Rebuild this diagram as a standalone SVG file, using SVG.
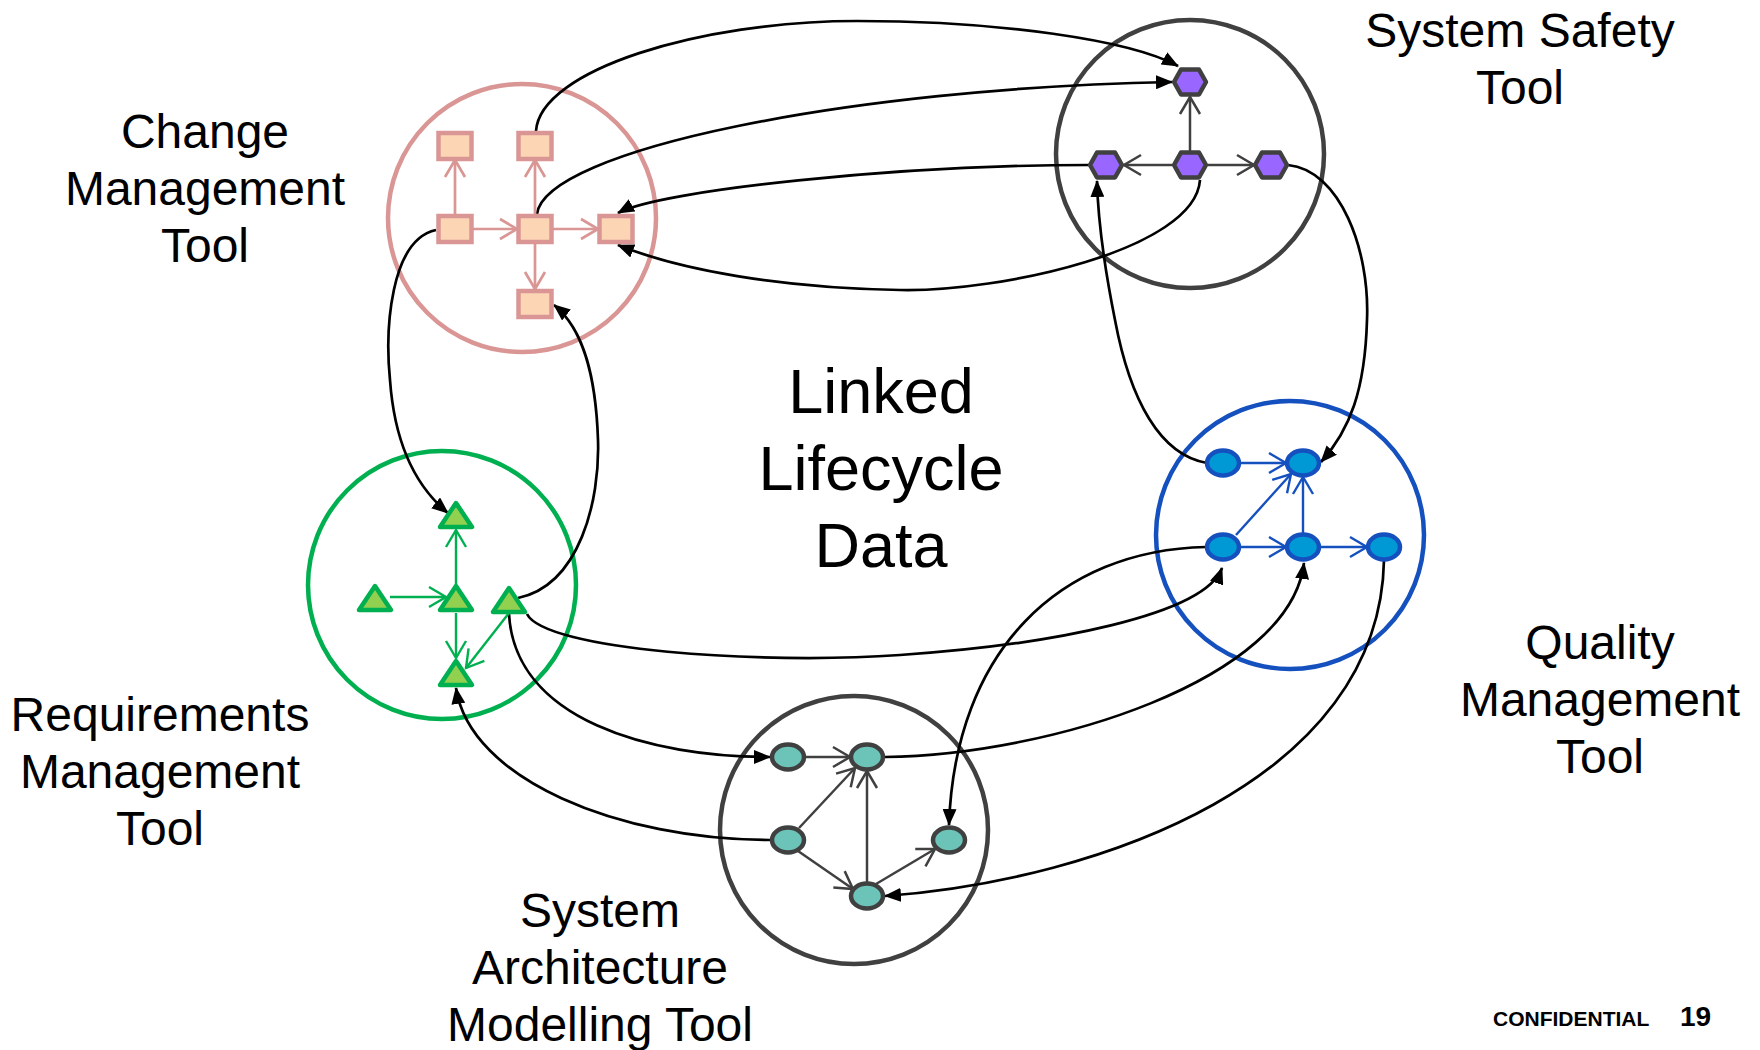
<svg xmlns="http://www.w3.org/2000/svg" width="1760" height="1050" viewBox="0 0 1760 1050">
<style>
.lbl{font-family:"Liberation Sans",Arial,sans-serif;font-size:48px;fill:#000;text-anchor:middle}
.big{font-family:"Liberation Sans",Arial,sans-serif;font-size:63px;fill:#000;text-anchor:middle}
.tool{fill:none;stroke-width:4.5}
.conn{fill:none;stroke:#000;stroke-width:2.7;marker-end:url(#ah)}
.sq{fill:#fcd5b4;stroke:#d99694;stroke-width:4.5}
.hx{fill:#9966ff;stroke:#404040;stroke-width:4.5;stroke-linejoin:round}
.tr{fill:#92d050;stroke:#00b050;stroke-width:4.5;stroke-linejoin:round}
.qe{fill:#0099d6;stroke:#1550bf;stroke-width:4.5}
.se{fill:#6cc4b8;stroke:#404040;stroke-width:4.5}
.ip{stroke:#d99694;stroke-width:2.7;fill:none;marker-end:url(#op)}
.ig{stroke:#404040;stroke-width:2.5;fill:none;marker-end:url(#og)}
.iv{stroke:#00b050;stroke-width:2.4;fill:none;marker-end:url(#ov)}
.ib{stroke:#1550bf;stroke-width:2.4;fill:none;marker-end:url(#ob)}
</style>
<defs>
<marker id="ah" viewBox="0 0 17 14" refX="16" refY="7" markerWidth="17" markerHeight="14" markerUnits="userSpaceOnUse" orient="auto"><path d="M0,0 L17,7 L0,14 z" fill="#000"/></marker>
<marker id="op" viewBox="-2 -2 22 24" refX="17" refY="10" markerWidth="22" markerHeight="24" markerUnits="userSpaceOnUse" orient="auto"><path d="M0,0 L17,10 L0,20" fill="none" stroke="#d99694" stroke-width="2.7"/></marker>
<marker id="og" viewBox="-2 -2 22 24" refX="17" refY="10" markerWidth="22" markerHeight="24" markerUnits="userSpaceOnUse" orient="auto"><path d="M0,0 L17,10 L0,20" fill="none" stroke="#404040" stroke-width="2.5"/></marker>
<marker id="ov" viewBox="-2 -2 22 24" refX="17" refY="10" markerWidth="22" markerHeight="24" markerUnits="userSpaceOnUse" orient="auto"><path d="M0,0 L17,10 L0,20" fill="none" stroke="#00b050" stroke-width="2.4"/></marker>
<marker id="ob" viewBox="-2 -2 22 24" refX="17" refY="10" markerWidth="22" markerHeight="24" markerUnits="userSpaceOnUse" orient="auto"><path d="M0,0 L17,10 L0,20" fill="none" stroke="#1550bf" stroke-width="2.4"/></marker>
</defs>
<rect width="1760" height="1050" fill="#fff"/>

<g id="change-management-tool">
<circle class="tool" cx="522" cy="218" r="134" stroke="#d99694"/>
<text class="lbl" x="205" y="148">Change</text>
<text class="lbl" x="205" y="205">Management</text>
<text class="lbl" x="205" y="262">Tool</text>
</g>
<g id="system-safety-tool">
<circle class="tool" cx="1190" cy="154" r="134" stroke="#404040"/>
<text class="lbl" x="1520" y="47">System Safety</text>
<text class="lbl" x="1520" y="104">Tool</text>
</g>
<g id="requirements-management-tool">
<circle class="tool" cx="442" cy="585" r="134" stroke="#00b050"/>
<text class="lbl" x="160" y="731">Requirements</text>
<text class="lbl" x="160" y="788">Management</text>
<text class="lbl" x="160" y="845">Tool</text>
</g>
<g id="quality-management-tool">
<circle class="tool" cx="1290" cy="535" r="134" stroke="#1550bf"/>
<text class="lbl" x="1600" y="659">Quality</text>
<text class="lbl" x="1600" y="716">Management</text>
<text class="lbl" x="1600" y="773">Tool</text>
</g>
<g id="system-architecture-modelling-tool">
<circle class="tool" cx="854" cy="830" r="134" stroke="#404040"/>
<text class="lbl" x="600" y="927">System</text>
<text class="lbl" x="600" y="984">Architecture</text>
<text class="lbl" x="600" y="1041">Modelling Tool</text>
</g>
<g id="linked-lifecycle-data">
<text class="big" x="881" y="413">Linked</text>
<text class="big" x="881" y="490">Lifecycle</text>
<text class="big" x="881" y="567">Data</text>
</g>

<g id="connectors">
<path class="conn" d="M536 131 C540 70 700 21 857 21 C1000 21 1130 40 1178 66"/>
<path class="conn" d="M537 214 C545 150 850 88 1172 82"/>
<path class="conn" d="M1089 165 C900 165 660 190 618 213"/>
<path class="conn" d="M1200 180 C1195 250 1000 292 900 290 C780 288 680 270 618 245"/>
<path class="conn" d="M1288 165 C1340 170 1370 250 1367 320 C1365 390 1350 430 1321 462"/>
<path class="conn" d="M1207 463 C1160 455 1130 400 1115 320 C1103 260 1098 220 1097 181"/>
<path class="conn" d="M436 230 C390 240 385 330 390 380 C395 450 420 490 448 513"/>
<path class="conn" d="M518 598 C580 585 600 500 598 440 C596 380 585 330 554 305"/>
<path class="conn" d="M527 614 C545 650 760 665 900 655 C1050 645 1205 615 1222 568"/>
<path class="conn" d="M509 614 C515 720 650 757 770 757"/>
<path class="conn" d="M770 840 C620 840 470 780 456 688"/>
<path class="conn" d="M885 757 C1050 755 1290 680 1304 563"/>
<path class="conn" d="M1206 547 C1060 550 955 650 949 825"/>
<path class="conn" d="M1384 560 C1380 780 1100 880 885 896"/>
</g>

<g id="cm-links">
<path class="ip" d="M455 216 V160"/>
<path class="ip" d="M535 216 V160"/>
<path class="ip" d="M473 229 H517"/>
<path class="ip" d="M553 229 H598"/>
<path class="ip" d="M535 243 V289"/>
</g>
<g id="ss-links">
<path class="ig" d="M1190 151 V97"/>
<path class="ig" d="M1172 165 H1124"/>
<path class="ig" d="M1208 165 H1254"/>
</g>
<g id="rm-links">
<path class="iv" d="M456 585 V530"/>
<path class="iv" d="M390 597 H446"/>
<path class="iv" d="M456 613 V658"/>
<path class="iv" d="M509 613 L466 668"/>
</g>
<g id="qm-links">
<path class="ib" d="M1241 463 H1286"/>
<path class="ib" d="M1236 535 L1291 474"/>
<path class="ib" d="M1303 533 V477"/>
<path class="ib" d="M1241 547 H1286"/>
<path class="ib" d="M1321 547 H1367"/>
</g>
<g id="sam-links">
<path class="ig" d="M806 757 H850"/>
<path class="ig" d="M799 828 L855 768"/>
<path class="ig" d="M798 851 L853 889"/>
<path class="ig" d="M867 882 V771"/>
<path class="ig" d="M876 884 L935 849"/>
</g>

<g id="cm-n1"><rect class="sq" x="438.5" y="133" width="33" height="26"/></g>
<g id="cm-n2"><rect class="sq" x="518.5" y="133" width="33" height="26"/></g>
<g id="cm-n3"><rect class="sq" x="438.5" y="216" width="33" height="26"/></g>
<g id="cm-n4"><rect class="sq" x="518.5" y="216" width="33" height="26"/></g>
<g id="cm-n5"><rect class="sq" x="599.5" y="216" width="33" height="26"/></g>
<g id="cm-n6"><rect class="sq" x="518.5" y="291" width="33" height="26"/></g>

<g id="ss-n1"><polygon class="hx" points="1174,82 1181,69.5 1199,69.5 1206,82 1199,94.5 1181,94.5"/></g>
<g id="ss-n2"><polygon class="hx" points="1090,165 1097,152.5 1115,152.5 1122,165 1115,177.5 1097,177.5"/></g>
<g id="ss-n3"><polygon class="hx" points="1174,165 1181,152.5 1199,152.5 1206,165 1199,177.5 1181,177.5"/></g>
<g id="ss-n4"><polygon class="hx" points="1255,165 1262,152.5 1280,152.5 1287,165 1280,177.5 1262,177.5"/></g>

<g id="rm-n1"><polygon class="tr" points="456,503 472,527 440,527"/></g>
<g id="rm-n2"><polygon class="tr" points="375,586 391,610 359,610"/></g>
<g id="rm-n3"><polygon class="tr" points="456,586 472,610 440,610"/></g>
<g id="rm-n4"><polygon class="tr" points="509,588 525,612 493,612"/></g>
<g id="rm-n5"><polygon class="tr" points="456,661 472,685 440,685"/></g>

<g id="qm-n1"><ellipse class="qe" cx="1223" cy="463" rx="16" ry="12.5"/></g>
<g id="qm-n2"><ellipse class="qe" cx="1303" cy="463" rx="16" ry="12.5"/></g>
<g id="qm-n3"><ellipse class="qe" cx="1223" cy="547" rx="16" ry="12.5"/></g>
<g id="qm-n4"><ellipse class="qe" cx="1303" cy="547" rx="16" ry="12.5"/></g>
<g id="qm-n5"><ellipse class="qe" cx="1384" cy="547" rx="16" ry="12.5"/></g>

<g id="sam-n1"><ellipse class="se" cx="788" cy="757" rx="16" ry="12.5"/></g>
<g id="sam-n2"><ellipse class="se" cx="867" cy="757" rx="16" ry="12.5"/></g>
<g id="sam-n3"><ellipse class="se" cx="788" cy="840" rx="16" ry="12.5"/></g>
<g id="sam-n4"><ellipse class="se" cx="949" cy="840" rx="16" ry="12.5"/></g>
<g id="sam-n5"><ellipse class="se" cx="867" cy="896" rx="16" ry="12.5"/></g>

<g id="footer">
<text x="1493" y="1026" font-family="Liberation Sans, Arial, sans-serif" font-weight="bold" font-size="21">CONFIDENTIAL</text>
<text x="1680" y="1026" font-family="Liberation Sans, Arial, sans-serif" font-weight="bold" font-size="28">19</text>
</g>
</svg>
